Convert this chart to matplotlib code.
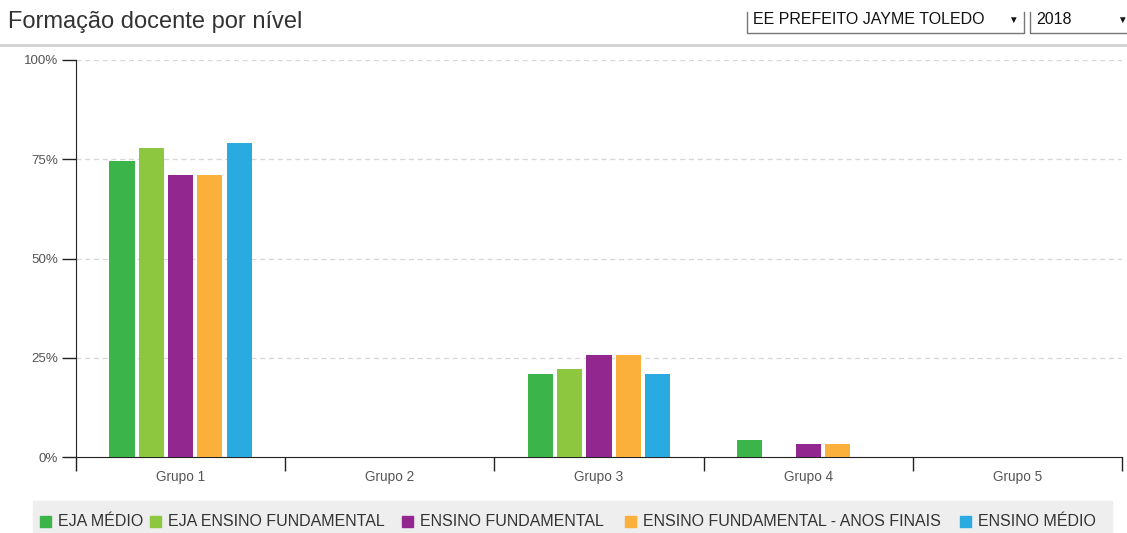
import matplotlib.pyplot as plt
import numpy as np
from matplotlib.patches import Rectangle
from matplotlib.ticker import FuncFormatter

plt.rcParams['font.family'] = ['Liberation Sans', 'DejaVu Sans']

grupos = ['Grupo 1', 'Grupo 2', 'Grupo 3', 'Grupo 4', 'Grupo 5']
series = ['EJA MÉDIO', 'EJA ENSINO FUNDAMENTAL', 'ENSINO FUNDAMENTAL',
          'ENSINO FUNDAMENTAL - ANOS FINAIS', 'ENSINO MÉDIO']
eja_medio = [74.6, 0, 20.8, 4.3, 0]
eja_fundamental = [77.8, 0, 22.2, 0, 0]
fundamental = [71.0, 0, 25.8, 3.2, 0]
fundamental_finais = [71.0, 0, 25.8, 3.2, 0]
medio = [79.2, 0, 20.8, 0, 0]
valores = [eja_medio, eja_fundamental, fundamental, fundamental_finais, medio]
cores = ['#3bb54a', '#8dc63f', '#92278f', '#fbb03b', '#29abe2']

W, H = 1127, 533
fig = plt.figure(figsize=(W / 100, H / 100), dpi=100)
ax = fig.add_axes([76 / W, (H - 457) / H, (1122 - 76) / W, (457 - 60) / H])

x = np.arange(len(grupos))
passo, largura = 0.14, 0.12
for i, (vals, cor) in enumerate(zip(valores, cores)):
    ax.bar(x + (i - 2) * passo, vals, largura, color=cor, zorder=3)

ax.set_xlim(-0.5, len(grupos) - 0.5)
ax.set_ylim(0, 100)

# grade tracejada
ax.set_yticks([0, 25, 50, 75, 100])
ax.yaxis.set_major_formatter(FuncFormatter(lambda v, p: f'{v:.0f}%'))
for v in [25, 50, 75, 100]:
    ax.axhline(v, color='#d6d6d6', lw=0.9, ls=(0, (4, 3)), zorder=1)

# divisões entre grupos com rótulos centralizados
ax.set_xticks(np.arange(-0.5, len(grupos)), labels=[])
ax.set_xticks(x, labels=grupos, minor=True)
ax.tick_params(axis='x', which='major', length=10, width=1, color='#222')
ax.tick_params(axis='x', which='minor', length=0, pad=9, labelsize=9.8, labelcolor='#555')
ax.tick_params(axis='y', length=10, width=1, color='#222', pad=3, labelsize=9.6, labelcolor='#555')

for s in ['top', 'right']:
    ax.spines[s].set_visible(False)
ax.spines['left'].set_color('#222')
ax.spines['bottom'].set_color('#222')
ax.spines['left'].set_bounds(0, 100)

# cabeçalho
fig.text(8 / W, 1 - 22 / H, 'Formação docente por nível', fontsize=17,
         color='#333', va='center', ha='left')
fig.add_artist(plt.Line2D([0, 1], [1 - 45 / H, 1 - 45 / H], color='#d0d0d0', lw=2))

# caixas de seleção
for x0, x1, txt, seta in [(747, 1024, 'EE PREFEITO JAYME TOLEDO', 1013),
                          (1030, 1140, '2018', 1122)]:
    fig.add_artist(plt.Line2D([x0 / W, x0 / W, x1 / W, x1 / W],
                              [1 - 12 / H, 1 - 33 / H, 1 - 33 / H, 1 - 12 / H],
                              color='#777', lw=1))
    fig.text((x0 + 6) / W, 1 - 20 / H, txt, fontsize=11.5, color='#111', va='center')
    fig.text(seta / W, 1 - 20 / H, '▼', fontsize=7, color='#111', va='center', ha='center')

# legenda
fig.add_artist(Rectangle((33 / W, 0), (1112 - 33) / W, 32 / H,
                         transform=fig.transFigure, color='#eeeeee', zorder=0))
posicoes = [40, 150, 402, 625, 960]
for px, nome, cor in zip(posicoes, series, cores):
    fig.add_artist(Rectangle((px / W, 1 - 527 / H), 11 / W, 11 / H,
                             transform=fig.transFigure, color=cor))
    fig.text((px + 18) / W, 1 - 521 / H, nome, fontsize=11.5, color='#333', va='center')

fig.savefig('out.png', dpi=100)
